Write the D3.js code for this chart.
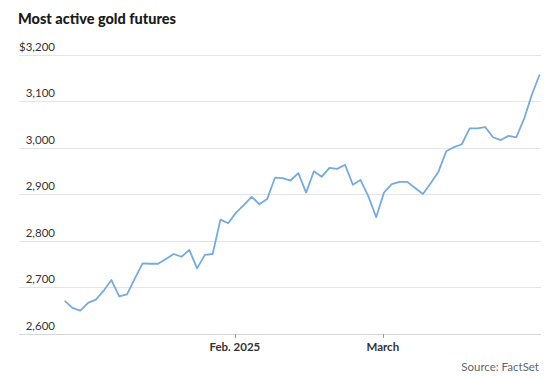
<!DOCTYPE html>
<html><head><meta charset="utf-8">
<script src="https://cdn.jsdelivr.net/npm/d3@7"></script>
<style>
html,body{margin:0;padding:0;background:#fff;}
svg{display:block;font-family:Lato,"Open Sans",sans-serif;}
</style></head>
<body>
<svg id="chart" width="550" height="377"></svg>
<script>
const dates = [
 "2024-12-31",
 "2025-01-02","2025-01-03","2025-01-06","2025-01-07","2025-01-08","2025-01-09","2025-01-10",
 "2025-01-13","2025-01-14","2025-01-15","2025-01-16","2025-01-17","2025-01-21","2025-01-22",
 "2025-01-23","2025-01-24","2025-01-27","2025-01-28","2025-01-29","2025-01-30","2025-01-31",
 "2025-02-03","2025-02-04","2025-02-05","2025-02-06","2025-02-07","2025-02-10","2025-02-11",
 "2025-02-12","2025-02-13","2025-02-14","2025-02-18","2025-02-19","2025-02-20","2025-02-21",
 "2025-02-24","2025-02-25","2025-02-26","2025-02-27","2025-02-28",
 "2025-03-03","2025-03-04","2025-03-05","2025-03-06","2025-03-07","2025-03-10","2025-03-11",
 "2025-03-12","2025-03-13","2025-03-14","2025-03-17","2025-03-18","2025-03-19","2025-03-20",
 "2025-03-21","2025-03-24","2025-03-25","2025-03-26","2025-03-27","2025-03-28","2025-03-31"
];
const prices = [
 2670,2655,2649,2666,2673,2692,2715,2680,2684,2718,
 2751,2750,2750,2760,2771,2765,2780,2740,2769,2771,
 2845,2837,2860,2876,2894,2878,2889,2935,2934,2929,
 2945,2903,2949,2937,2956,2954,2963,2920,2930,2895,
 2850,2903,2921,2926,2926,2913,2900,2923,2948,2992,
 3001,3007,3041,3041,3044,3022,3016,3025,3022,3062,
 3114,3157
];
const yTicks = [2600,2700,2800,2900,3000,3100,3200];
const xTickLabels = [{month:"2025-02", label:"Feb. 2025"}, {month:"2025-03", label:"March"}];
const title = "Most active gold futures";
const source = "Source: FactSet";

const svg = d3.select("#chart");
const x = d3.scaleLinear().domain([0, dates.length-1]).range([64.7, 539.7]);
const y = d3.scaleLinear().domain([2600, 3200]).range([333.5, 54.5]);

svg.append("text").attr("x",18).attr("y",24)
  .attr("font-size",14.5).attr("font-weight",900).attr("fill","#1a1a1a").text(title);

// gridlines + labels
const g = svg.append("g");
g.selectAll("line.grid").data(yTicks).join("line")
  .attr("x1",19).attr("x2",541)
  .attr("y1",d=>Math.round(y(d))+0.5).attr("y2",d=>Math.round(y(d))+0.5)
  .attr("stroke",d=>d===2600?"#d6d6d6":"#e4e4e4").attr("stroke-width",1);
g.selectAll("text.yl").data(yTicks).join("text")
  .attr("x",55).attr("y",d=>y(d)-4).attr("text-anchor","end")
  .attr("font-size",11.5).attr("fill","#333")
  .text(d=>(d===3200?"$":"")+d3.format(",")(d));

// x ticks
const tickIdx = xTickLabels.map(t=>({label:t.label, idx: dates.findIndex(d=>d.startsWith(t.month)) - 0.15}));
g.selectAll("line.xt").data(tickIdx).join("line")
  .attr("x1",d=>Math.round(x(d.idx))+0.5).attr("x2",d=>Math.round(x(d.idx))+0.5)
  .attr("y1",334).attr("y2",338).attr("stroke","#999");
g.selectAll("text.xl").data(tickIdx).join("text")
  .attr("x",d=>x(d.idx)).attr("y",351).attr("text-anchor","middle")
  .attr("font-size",11.5).attr("font-weight",700).attr("fill","#333").text(d=>d.label);

svg.append("path").datum(prices)
  .attr("fill","none").attr("stroke","#74abe0").attr("stroke-width",1.8)
  .attr("stroke-linejoin","round")
  .attr("d", d3.line().x((d,i)=>x(i)).y(d=>y(d)));

svg.append("text").attr("x",539).attr("y",371).attr("text-anchor","end")
  .attr("font-size",11.5).attr("fill","#666").text(source);
</script>
</body></html>
